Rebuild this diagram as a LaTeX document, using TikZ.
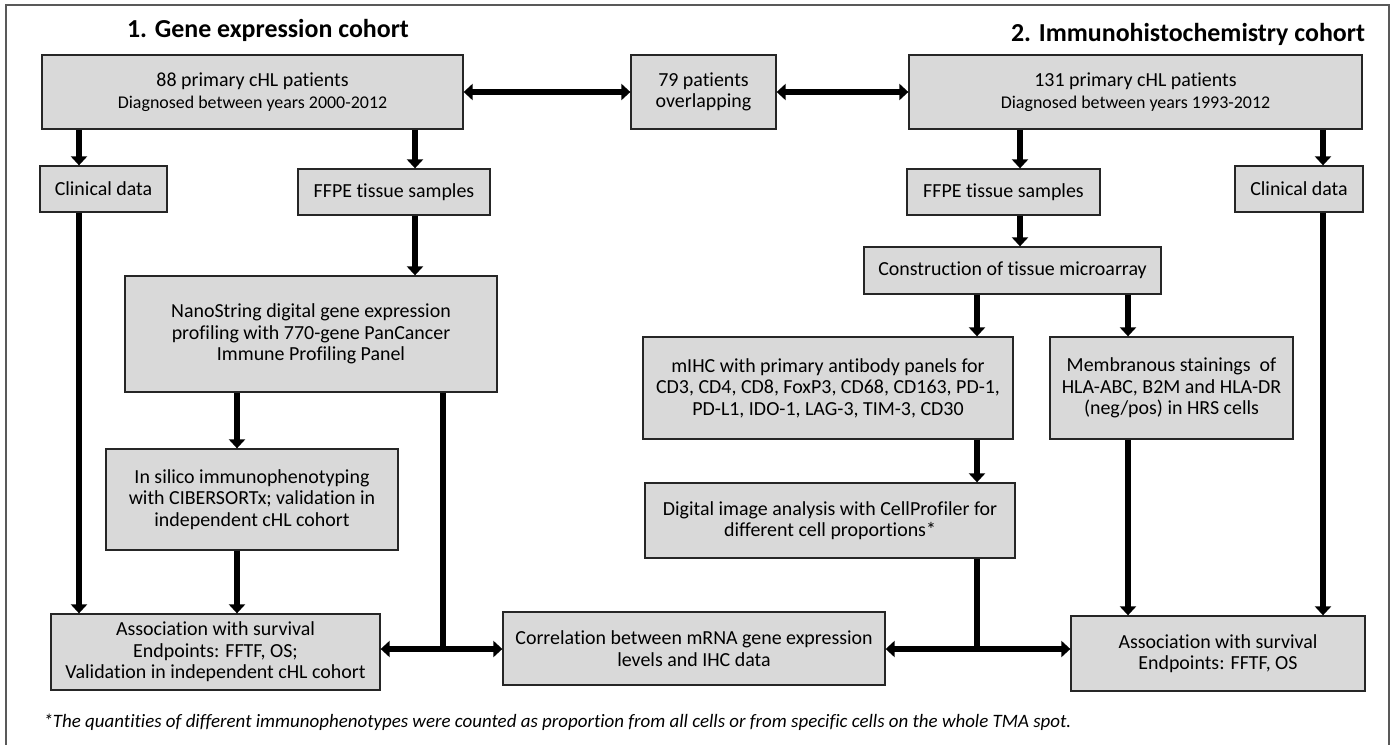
\documentclass[tikz,border=0pt]{standalone}
\usepackage{fontspec}
\setmainfont{Carlito}[Ligatures={NoCommon}]
\usetikzlibrary{arrows.meta}

\newcommand{\bodyfont}{\fontsize{20}{21.5}\selectfont}
\newcommand{\smallfont}{\fontsize{18}{21.5}\selectfont}

\begin{document}
\begin{tikzpicture}[
    x=1bp, y=-1bp,
    box/.style={
        rectangle, draw=black!85, line width=1.3bp, fill=gray!30,
        inner sep=0pt, align=center, font=\bodyfont},
    heading/.style={font=\fontsize{26}{30}\selectfont\bfseries},
    arr/.style={line width=5.5bp, -{Triangle[width=16bp, length=9bp]}},
    dbl/.style={line width=5.5bp, {Triangle[width=16bp, length=9bp]}-{Triangle[width=16bp, length=9bp]}},
    ln/.style={line width=5.5bp}
]

\useasboundingbox (0,0) rectangle (1396,744);
\draw[black!65, line width=1.2bp] (6,5) rectangle (1389,750);

%% ── Headings ────────────────────────────────────────────────────
\node[heading] (h1) at (268, 30) {1. Gene expression cohort};
\node[heading] (h2) at (1188, 34) {2. Immunohistochemistry cohort};

%% ── Patient rows ────────────────────────────────────────────────
\node[box, minimum width=421bp, minimum height=74bp] (pA) at (252.5, 92)
    {88 primary cHL patients\\ {\smallfont Diagnosed between years 2000-2012}};
\node[box, minimum width=145bp, minimum height=74bp] (over) at (703.5, 92)
    {79 patients\\ overlapping};
\node[box, minimum width=453bp, minimum height=74bp] (pB) at (1135.5, 92)
    {131 primary cHL patients\\ {\smallfont Diagnosed between years 1993-2012}};

%% ── Cohort 1 ────────────────────────────────────────────────────
\node[box, minimum width=127bp, minimum height=46bp] (clinL) at (103.5, 189) {Clinical data};
\node[box, minimum width=192bp, minimum height=46bp] (ffpeL) at (394, 192) {FFPE tissue samples};
\node[box, minimum width=372bp, minimum height=116bp] (nano) at (311, 334)
    {NanoString digital gene expression\\ profiling with 770-gene PanCancer\\ Immune Profiling Panel};
\node[box, minimum width=292bp, minimum height=101bp] (insil) at (252, 499.5)
    {In silico immunophenotyping\\ with CIBERSORTx; validation in\\ independent cHL cohort};
\node[box, minimum width=329bp, minimum height=76bp] (assocL) at (215.5, 652)
    {Association with survival\\ Endpoints: FFTF, OS;\\ Validation in independent cHL cohort};

%% ── Cohort 2 ────────────────────────────────────────────────────
\node[box, minimum width=193bp, minimum height=46bp] (ffpeR) at (1003.5, 192) {FFPE tissue samples};
\node[box, minimum width=128bp, minimum height=46bp] (clinR) at (1299, 189) {Clinical data};
\node[box, minimum width=297bp, minimum height=47bp] (tma) at (1012.5, 270.5)
    {Construction of tissue microarray};
\node[box, minimum width=370bp, minimum height=102bp] (mihc) at (828, 388)
    {mIHC with primary antibody panels for\\ CD3, CD4, CD8, FoxP3, CD68, CD163, PD-1,\\ PD-L1, IDO-1, LAG-3, TIM-3, CD30};
\node[box, minimum width=243bp, minimum height=102bp] (memb) at (1171.5, 388)
    {Membranous stainings\ \ of\\ HLA-ABC, B2M and HLA-DR\\ (neg/pos) in HRS cells};
\node[box, minimum width=370bp, minimum height=75bp] (digi) at (830, 520.5)
    {Digital image analysis with CellProfiler for\\ different cell proportions*};
\node[box, minimum width=294bp, minimum height=75bp] (assocR) at (1218, 653.5)
    {Association with survival\\ Endpoints: FFTF, OS};

%% ── Joint result ────────────────────────────────────────────────
\node[box, minimum width=382bp, minimum height=73bp] (corr) at (694, 648.5)
    {Correlation between mRNA gene expression\\ levels and IHC data};

%% ── Footnote ────────────────────────────────────────────────────
\node[anchor=west, font=\fontsize{19}{22}\selectfont\itshape] (note) at (40, 722)
    {*The quantities of different immunophenotypes were counted as proportion from all cells or from specific cells on the whole TMA spot.};

%% ── Arrow columns and junctions ─────────────────────────────────
\coordinate (cA1) at (79, 0);
\coordinate (cA2) at (415, 0);
\coordinate (cA3) at (237, 0);
\coordinate (cB1) at (1020, 0);
\coordinate (cB2) at (977, 0);
\coordinate (cB3) at (1128, 0);
\coordinate (cB4) at (1323, 0);
\coordinate (jL) at (443, 649);
\coordinate (jR) at (977, 649);

%% ── Overlap ─────────────────────────────────────────────────────
\draw[dbl] (pA) -- (over);
\draw[dbl] (over) -- (pB);

%% ── Arrows: cohort 1 ────────────────────────────────────────────
\draw[arr] (pA.south -| cA1) -- (clinL.north -| cA1);
\draw[arr] (pA.south -| cA2) -- (ffpeL.north -| cA2);
\draw[arr] (ffpeL.south -| cA2) -- (nano.north -| cA2);
\draw[arr] (nano.south -| cA3) -- (insil.north -| cA3);
\draw[arr] (insil.south -| cA3) -- (assocL.north -| cA3);
\draw[arr] (clinL.south -| cA1) -- (assocL.north -| cA1);
\draw[ln] (nano.south -| jL) -- (jL);

%% ── Arrows: cohort 2 ────────────────────────────────────────────
\draw[arr] (pB.south -| cB1) -- (ffpeR.north -| cB1);
\draw[arr] (pB.south -| cB4) -- (clinR.north -| cB4);
\draw[arr] (ffpeR.south -| cB1) -- (tma.north -| cB1);
\draw[arr] (tma.south -| cB2) -- (mihc.north -| cB2);
\draw[arr] (tma.south -| cB3) -- (memb.north -| cB3);
\draw[arr] (mihc.south -| cB2) -- (digi.north -| cB2);
\draw[arr] (memb.south -| cB3) -- (assocR.north -| cB3);
\draw[arr] (clinR.south -| cB4) -- (assocR.north -| cB4);
\draw[ln] (digi.south -| jR) -- (jR);

%% ── Correlation links ───────────────────────────────────────────
\draw[dbl] (assocL.east |- jL) -- (corr.west |- jL);
\draw[dbl] (corr.east |- jR) -- (assocR.west |- jR);

\end{tikzpicture}
\end{document}
